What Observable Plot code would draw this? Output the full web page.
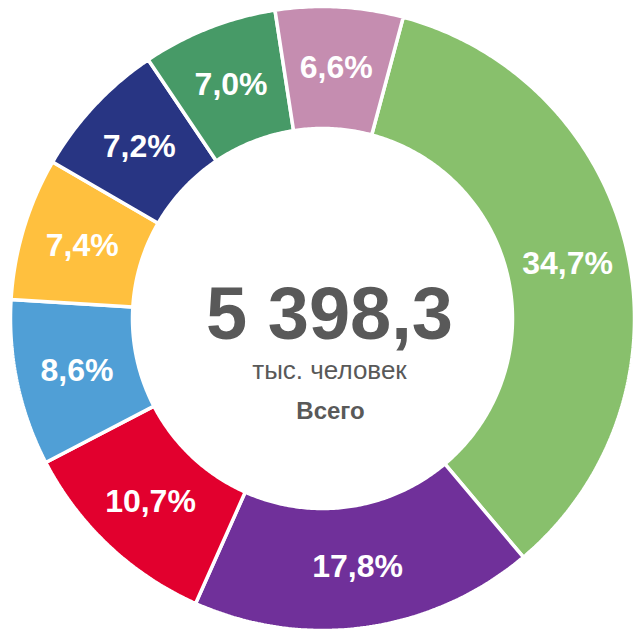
<!DOCTYPE html>
<html>
<head>
<meta charset="utf-8">
<script src="https://cdn.jsdelivr.net/npm/d3@7"></script>
<script src="https://cdn.jsdelivr.net/npm/@observablehq/plot@0.6"></script>
<style>
  html, body { margin: 0; padding: 0; background: #fff; }
  #chart { width: 633px; height: 631px; }
</style>
</head>
<body>
<div id="chart"></div>
<script>
// ---- data ----
const categories = ["A", "B", "C", "D", "E", "F", "G", "H"];
const shares = [34.7, 17.8, 10.7, 8.6, 7.4, 7.2, 7.0, 6.6];
const shareLabels = ["34,7%", "17,8%", "10,7%", "8,6%", "7,4%", "7,2%", "7,0%", "6,6%"];
const colors = ["#88C06C", "#70309A", "#E2002E", "#509FD6", "#FFC03E", "#283583", "#479A67", "#C58DB0"];
const totalValue = "5 398,3";
const totalUnit = "тыс. человек";
const totalCaption = "Всего";

// ---- geometry ----
const W = 633, H = 631;
const cx = 322, cy = 318, R = 312;
const innerR = 190 / R;
const labelR = 251 / R;
const startAngle = 15 * Math.PI / 180;

const table = categories.map((c, i) => ({ name: c, value: shares[i], label: shareLabels[i], color: colors[i] }));
const arcs = d3.pie().value(d => d.value).sort(null)
  .startAngle(startAngle).endAngle(startAngle + 2 * Math.PI)(table);

const pts = [];
for (const a of arcs) {
  const n = Math.max(8, Math.ceil((a.endAngle - a.startAngle) / 0.01));
  const ring = [];
  for (let k = 0; k <= n; k++) {
    const t = a.startAngle + (a.endAngle - a.startAngle) * k / n;
    ring.push({ x: Math.sin(t), y: Math.cos(t) });
  }
  for (let k = n; k >= 0; k--) {
    const t = a.startAngle + (a.endAngle - a.startAngle) * k / n;
    ring.push({ x: innerR * Math.sin(t), y: innerR * Math.cos(t) });
  }
  ring.push(ring[0]);
  for (const p of ring) pts.push({ ...p, name: a.data.name });
}

const labels = arcs.map(a => {
  const m = (a.startAngle + a.endAngle) / 2;
  return { x: labelR * Math.sin(m), y: labelR * Math.cos(m), label: a.data.label };
});

const center = [{ x: 0, y: 0 }];
const font = "Liberation Sans, Arial, sans-serif";

const chart = Plot.plot({
  width: W,
  height: H,
  margin: 0,
  x: { domain: [-cx / R, (W - cx) / R], axis: null },
  y: { domain: [-(H - cy) / R, cy / R], axis: null },
  color: { domain: categories, range: colors },
  style: { background: "white", fontFamily: font },
  marks: [
    Plot.line(pts, { x: "x", y: "y", z: "name", fill: "name", stroke: "white", strokeWidth: 3.5, strokeLinejoin: "miter" }),
    Plot.text(labels, { x: "x", y: "y", text: "label", fill: "white", fontSize: 32, fontWeight: "bold", fontFamily: font }),
    Plot.text(center, { x: "x", y: "y", text: () => totalValue, fill: "#595959", fontSize: 74, fontWeight: "bold", fontFamily: font, lineAnchor: "bottom", dy: 20, dx: 7 }),
    Plot.text(center, { x: "x", y: "y", text: () => totalUnit, fill: "#595959", fontSize: 26, fontFamily: font, lineAnchor: "bottom", dy: 60, dx: 7 }),
    Plot.text(center, { x: "x", y: "y", text: () => totalCaption, fill: "#595959", fontSize: 24, fontWeight: "bold", fontFamily: font, lineAnchor: "bottom", dy: 100, dx: 8 })
  ]
});
document.getElementById("chart").appendChild(chart);
</script>
</body>
</html>
